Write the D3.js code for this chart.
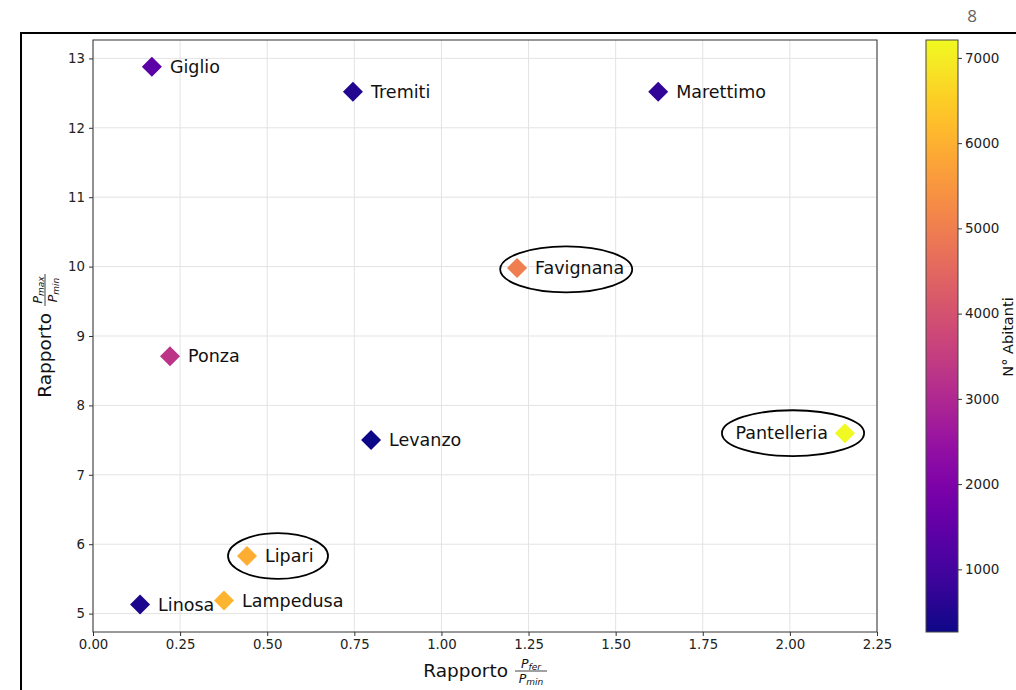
<!DOCTYPE html>
<meta charset="utf-8">
<script src="https://d3js.org/d3.v7.min.js"></script>
<style>
  body { margin: 0; background: #fff; }
  text { font-family: "DejaVu Sans", sans-serif; }
</style>
<div id="chart"></div>
<script>
// Island data
const islands = ["Giglio", "Tremiti", "Marettimo", "Favignana", "Ponza", "Levanzo", "Pantelleria", "Lipari", "Lampedusa", "Linosa"];
const ratioFer = [0.169, 0.746, 1.622, 1.217, 0.221, 0.798, 2.158, 0.442, 0.376, 0.135];
const ratioMax = [12.88, 12.52, 12.52, 9.98, 8.71, 7.50, 7.60, 5.83, 5.19, 5.13];
const population = [1400, 500, 700, 5000, 3300, 265, 7210, 5950, 6050, 430];
const labelLeft = ["Pantelleria"];

// circled islands: centre and size in data units
const circled = ["Favignana", "Pantelleria", "Lipari"];
const circleX = [1.358, 2.009, 0.531];
const circleY = [9.96, 7.60, 5.83];
const circleW = [0.379, 0.408, 0.287];
const circleH = [0.66, 0.66, 0.66];

const xTicks = [0, 0.25, 0.5, 0.75, 1.0, 1.25, 1.5, 1.75, 2.0, 2.25];
const yTicks = [5, 6, 7, 8, 9, 10, 11, 12, 13];
const cTicks = [1000, 2000, 3000, 4000, 5000, 6000, 7000];

const W = 1016, H = 690;
const plot = {left: 93, top: 40, right: 877, bottom: 632};
const cbar = {left: 926, right: 958};

const svg = d3.select("#chart").append("svg")
    .attr("width", W).attr("height", H);

// outer frame (cut off on the right and bottom)
svg.append("path")
    .attr("d", `M${W},33 H21 V${H}`)
    .attr("fill", "none").attr("stroke", "#000").attr("stroke-width", 2);

svg.append("text")
    .attr("x", 972).attr("y", 22)
    .attr("text-anchor", "middle")
    .attr("font-size", 17)
    .attr("fill", "#666")
    .style("font-family", "'Open Sans', sans-serif")
    .text("8");

const x = d3.scaleLinear().domain([0, 2.25]).range([plot.left, plot.right]);
const y = d3.scaleLinear().domain([4.735, 13.265]).range([plot.bottom, plot.top]);
const popExtent = d3.extent(population);
const color = d3.scaleSequential(d3.interpolatePlasma).domain(popExtent);

// grid
const grid = svg.append("g");
grid.selectAll(".gx").data(xTicks).join("line")
    .attr("x1", d => x(d)).attr("x2", d => x(d))
    .attr("y1", plot.top).attr("y2", plot.bottom)
    .attr("stroke", "#e3e3e3").attr("stroke-width", 1);
grid.selectAll(".gy").data(yTicks).join("line")
    .attr("x1", plot.left).attr("x2", plot.right)
    .attr("y1", d => y(d)).attr("y2", d => y(d))
    .attr("stroke", "#e3e3e3").attr("stroke-width", 1);

// axes
const xAxis = svg.append("g")
    .attr("transform", `translate(0,${plot.bottom})`)
    .call(d3.axisBottom(x).tickValues(xTicks).tickFormat(d3.format(".2f")).tickSizeOuter(0).tickSize(4).tickPadding(4));
const yAxis = svg.append("g")
    .attr("transform", `translate(${plot.left},0)`)
    .call(d3.axisLeft(y).tickValues(yTicks).tickSizeOuter(0).tickSize(4).tickPadding(4));
[xAxis, yAxis].forEach(a => {
  a.select(".domain").remove();
  a.selectAll("text").attr("font-size", 13.3).attr("fill", "#222").style("font-family", "'DejaVu Sans', sans-serif");
  a.selectAll("line").attr("stroke", "#333");
});

// plot frame
svg.append("rect")
    .attr("x", plot.left).attr("y", plot.top)
    .attr("width", plot.right - plot.left).attr("height", plot.bottom - plot.top)
    .attr("fill", "none").attr("stroke", "#333").attr("stroke-width", 1);

// points
const data = islands.map((name, i) => ({
  name, fx: ratioFer[i], fy: ratioMax[i], pop: population[i]
}));

const diamond = d3.symbol().type(d3.symbolSquare).size(200);
svg.append("g").selectAll("path").data(data).join("path")
    .attr("d", diamond)
    .attr("transform", d => `translate(${x(d.fx)},${y(d.fy)}) rotate(45)`)
    .attr("fill", d => color(d.pop));

svg.append("g").selectAll("text").data(data).join("text")
    .attr("x", d => labelLeft.includes(d.name) ? x(d.fx) - 17 : x(d.fx) + 18)
    .attr("y", d => y(d.fy))
    .attr("dy", "0.35em")
    .attr("text-anchor", d => labelLeft.includes(d.name) ? "end" : "start")
    .attr("font-size", 17.5)
    .attr("fill", "#111")
    .text(d => d.name);

// ellipses
svg.append("g").selectAll("ellipse").data(circled).join("ellipse")
    .attr("cx", (d, i) => x(circleX[i]))
    .attr("cy", (d, i) => y(circleY[i]))
    .attr("rx", (d, i) => (x(circleW[i]) - x(0)) / 2)
    .attr("ry", (d, i) => (y(0) - y(circleH[i])) / 2)
    .attr("fill", "none").attr("stroke", "#000").attr("stroke-width", 1.8);

// axis labels with fractions
function fracLabel(g, num, den) {
  g.append("text").attr("x", 0).attr("y", 0)
      .attr("font-size", 18.5).attr("fill", "#111")
      .attr("text-anchor", "end").text("Rapporto");
  const f = g.append("g").attr("transform", "translate(23,-6)");
  const t1 = f.append("text").attr("y", -3).attr("text-anchor", "middle")
      .attr("font-size", 12.5).attr("font-style", "italic").attr("fill", "#111");
  t1.append("tspan").text("P");
  t1.append("tspan").attr("font-size", 9).attr("dy", 2).text(num);
  const t2 = f.append("text").attr("y", 12).attr("text-anchor", "middle")
      .attr("font-size", 12.5).attr("font-style", "italic").attr("fill", "#111");
  t2.append("tspan").text("P");
  t2.append("tspan").attr("font-size", 9).attr("dy", 2).text(den);
  f.append("line").attr("x1", -16).attr("x2", 16).attr("y1", 0).attr("y2", 0)
      .attr("stroke", "#111").attr("stroke-width", 0.8);
}
fracLabel(svg.append("g").attr("transform", "translate(508,677)"), "fer", "min");
fracLabel(svg.append("g").attr("transform", "translate(51,313) rotate(-90)"), "max", "min");

// colorbar
const cy = d3.scaleLinear().domain(popExtent).range([plot.bottom, plot.top]);
const defs = svg.append("defs");
const grad = defs.append("linearGradient").attr("id", "plasma")
    .attr("x1", 0).attr("x2", 0).attr("y1", 1).attr("y2", 0);
d3.range(0, 1.0001, 0.05).forEach(t => {
  grad.append("stop").attr("offset", t).attr("stop-color", d3.interpolatePlasma(t));
});
svg.append("rect")
    .attr("x", cbar.left).attr("y", plot.top)
    .attr("width", cbar.right - cbar.left).attr("height", plot.bottom - plot.top)
    .attr("fill", "url(#plasma)").attr("stroke", "#444").attr("stroke-width", 1);
const cAxis = svg.append("g")
    .attr("transform", `translate(${cbar.right},0)`)
    .call(d3.axisRight(cy).tickValues(cTicks).tickFormat(d3.format("d")).tickSize(4).tickPadding(3));
cAxis.select(".domain").remove();
cAxis.selectAll("text").attr("font-size", 13.5).attr("fill", "#222");
cAxis.selectAll("line").attr("stroke", "#333");

svg.append("text")
    .attr("transform", `translate(1013,337) rotate(-90)`)
    .attr("text-anchor", "middle")
    .attr("font-size", 14.5).attr("fill", "#111")
    .text("N° Abitanti");
</script>
</html>
